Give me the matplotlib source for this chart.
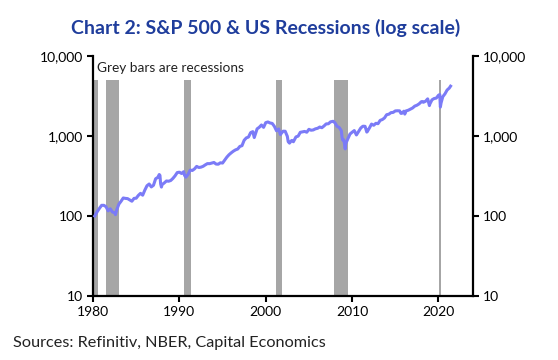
import matplotlib
matplotlib.use("Agg")
import matplotlib.pyplot as plt
from matplotlib.ticker import FuncFormatter, FixedLocator, NullLocator

# ---- data ----
dates = [1980.2, 1980.5, 1980.75, 1981.0, 1981.25, 1981.5, 1981.75, 1982.0,
         1982.25, 1982.5, 1982.6, 1982.75, 1983.0, 1983.25, 1983.5, 1983.75, 1984.0,
         1984.25, 1984.5, 1984.75, 1985.0, 1985.25, 1985.5, 1985.75, 1986.0,
         1986.25, 1986.5, 1986.75, 1987.0, 1987.25, 1987.5, 1987.67, 1987.75, 1987.83,
         1987.92, 1988.0, 1988.25, 1988.5, 1988.75, 1989.0, 1989.25, 1989.5, 1989.75,
         1990.0, 1990.25, 1990.5, 1990.6, 1990.75, 1991.0, 1991.25, 1991.5, 1991.75,
         1992.0, 1992.25, 1992.5, 1992.75, 1993.0, 1993.25, 1993.5, 1993.75, 1994.0,
         1994.25, 1994.5, 1994.75, 1995.0, 1995.25, 1995.5, 1995.75, 1996.0,
         1996.25, 1996.5, 1996.75, 1997.0, 1997.25, 1997.5, 1997.75, 1998.0,
         1998.25, 1998.5, 1998.67, 1998.75, 1999.0, 1999.25, 1999.5, 1999.75, 2000.0,
         2000.25, 2000.5, 2000.75, 2001.0, 2001.25, 2001.5, 2001.7, 2001.75, 2002.0,
         2002.25, 2002.5, 2002.6, 2002.75, 2003.0, 2003.2, 2003.5, 2003.75, 2004.0,
         2004.25, 2004.5, 2004.75, 2005.0, 2005.25, 2005.5, 2005.75, 2006.0,
         2006.25, 2006.5, 2006.75, 2007.0, 2007.25, 2007.5, 2007.8, 2008.0,
         2008.25, 2008.5, 2008.75, 2008.83, 2008.9, 2009.0, 2009.1, 2009.2, 2009.25,
         2009.5, 2009.75, 2010.0, 2010.25, 2010.5, 2010.75, 2011.0, 2011.25,
         2011.5, 2011.7, 2011.75, 2012.0, 2012.25, 2012.5, 2012.75, 2013.0,
         2013.25, 2013.5, 2013.75, 2014.0, 2014.25, 2014.5, 2014.75, 2015.0,
         2015.25, 2015.5, 2015.65, 2015.75, 2016.0, 2016.1, 2016.25, 2016.5, 2016.75, 2017.0,
         2017.25, 2017.5, 2017.75, 2018.0, 2018.1, 2018.25, 2018.5, 2018.75, 2018.95, 2019.0,
         2019.25, 2019.5, 2019.75, 2020.0, 2020.15, 2020.22, 2020.3, 2020.5, 2020.75,
         2021.0, 2021.25, 2021.4]
spx = [100, 114, 125, 136, 136, 131, 116, 123,
       112, 110, 104, 120, 141, 153, 168, 166, 165,
       159, 153, 166, 167, 181, 192, 182, 211,
       239, 251, 231, 242, 292, 304, 330, 322, 252,
       230, 247, 259, 274, 272, 278, 295, 318, 349,
       353, 340, 358, 322, 306, 330, 375, 371, 388,
       417, 404, 408, 418, 436, 452, 451, 459, 467,
       446, 444, 463, 459, 501, 545, 584, 616,
       646, 671, 687, 741, 757, 885, 947, 970,
       1102, 1134, 957, 1017, 1229, 1286, 1373, 1283, 1469,
       1499, 1455, 1437, 1320, 1160, 1224, 1041, 1060, 1148,
       1147, 990, 850, 815, 880, 848, 975, 996, 1112,
       1126, 1141, 1115, 1212, 1181, 1191, 1229, 1248,
       1295, 1270, 1336, 1418, 1421, 1503, 1527, 1468,
       1323, 1280, 1166, 969, 896, 903, 826, 690, 798,
       919, 1057, 1115, 1169, 1031, 1141, 1258, 1326,
       1321, 1120, 1131, 1258, 1409, 1362, 1441, 1426,
       1569, 1606, 1682, 1848, 1872, 1960, 1972, 2059,
       2068, 2063, 1920, 1920, 2044, 1880, 2060, 2099, 2168, 2239,
       2363, 2423, 2519, 2674, 2700, 2641, 2718, 2914, 2400, 2507,
       2834, 2942, 2977, 3231, 3300, 2300, 2585, 3100, 3363,
       3756, 3973, 4200]
rec_start = [1980.0, 1981.5, 1990.5, 2001.17, 2007.9, 2020.1]
rec_end = [1980.6, 1983.0, 1991.3, 2001.9, 2009.5, 2020.35]
rec_top = 5000
yticks = [10, 100, 1000, 10000]
xticks = [1980, 1990, 2000, 2010, 2020]

FONT = ["Lato", "DejaVu Sans"]
plt.rcParams["font.family"] = FONT

fig = plt.figure(figsize=(5.58, 3.6), dpi=100)
ax = fig.add_axes([0.1667, 0.1778, 0.681, 0.6666])

for s, e in zip(rec_start, rec_end):
    ax.bar(s, rec_top - 10, width=e - s, bottom=10, align="edge",
           color="#a6a6a6", linewidth=0, zorder=1)

ax.plot(dates, spx, color="#7b7bf7", linewidth=2.2, zorder=3)

ax.set_yscale("log")
ax.set_ylim(10, 10000)
ax.set_xlim(1980, 2024)
ax.yaxis.set_major_locator(FixedLocator(yticks))
ax.yaxis.set_minor_locator(NullLocator())
ax.yaxis.set_major_formatter(FuncFormatter(lambda v, p: f"{int(v):,}"))
ax.set_xticks(xticks)

for side in ["left", "right", "bottom"]:
    ax.spines[side].set_linewidth(1.6)
    ax.spines[side].set_color("black")
ax.spines["top"].set_visible(False)

ax.tick_params(axis="both", which="major", direction="out", length=4, width=1.5,
               labelsize=10, colors="black", pad=3)
ax.tick_params(axis="y", right=True, labelright=True, left=True, labelleft=True)

ax.text(1980.5, 7000, "Grey bars are recessions", fontsize=9.8, va="center",
        ha="left", color="#222222")

fig.text(0.476, 0.922, "Chart 2: S&P 500 & US Recessions (log scale)", ha="center",
         va="center", fontsize=14.0, fontweight="bold", color="#1f3d9c")
fig.text(0.023, 0.047, "Sources: Refinitiv, NBER, Capital Economics", ha="left",
         va="center", fontsize=11.7, color="#222222")

fig.savefig("out.png", dpi=100)
